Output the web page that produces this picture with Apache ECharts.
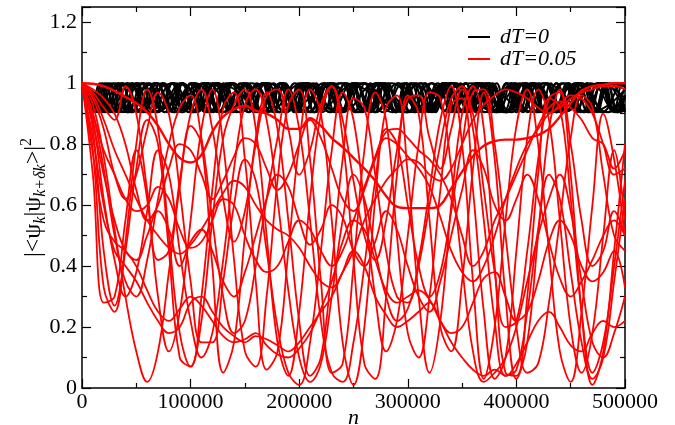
<!DOCTYPE html>
<html>
<head>
<meta charset="utf-8">
<script src="https://cdn.jsdelivr.net/npm/echarts/dist/echarts.min.js"></script>
<style>html,body{margin:0;padding:0;background:#fff}#c{width:675px;height:425px}</style>
</head>
<body>
<div id="c"></div>
<script>
// x grid shared by the dT=0.05 curves
const nGrid = [0,10000,20000,30000,40000,50000,60000,70000,80000,90000,100000,110000,120000,130000,140000,150000,160000,170000,180000,190000,200000,210000,220000,230000,240000,250000,260000,270000,280000,290000,300000,310000,320000,330000,340000,350000,360000,370000,380000,390000,400000,410000,420000,430000,440000,450000,460000,470000,480000,490000,500000];

// dT=0 curves: [n, value] turning points
const black1 = [[0,1],[10400,0.91],[20800,1],[31200,0.91],[41600,1],[52000,0.91],[62400,1],[72800,0.91],[83200,1],[93600,0.91],[104000,1],[114400,0.91],[124800,1],[135200,0.91],[145600,1],[156000,0.91],[166400,1],[176800,0.91],[187200,1],[197600,0.91],[208000,1],[218400,0.91],[228800,1],[239200,0.91],[249600,1],[260000,0.91],[270400,1],[280800,0.91],[291200,1],[301600,0.91],[312000,1],[322400,0.91],[332800,1],[343200,0.91],[353600,1],[364000,0.91],[374400,1],[384800,0.91],[395200,1],[405600,0.91],[416000,1],[426400,0.91],[436800,1],[447200,0.91],[457600,1],[468000,0.91],[478400,1],[488800,0.91],[500000,0.99]];
const black2 = [[0,1],[12600,0.905],[25200,1],[37800,0.905],[50400,1],[63000,0.905],[75600,1],[88200,0.905],[100800,1],[113400,0.905],[126000,1],[138600,0.905],[151200,1],[163800,0.905],[176400,1],[189000,0.905],[201600,1],[214200,0.905],[226800,1],[239400,0.905],[252000,1],[264600,0.905],[277200,1],[289800,0.905],[302400,1],[315000,0.905],[327600,1],[340200,0.905],[352800,1],[365400,0.905],[378000,1],[390600,0.905],[403200,1],[415800,0.905],[428400,1],[441000,0.905],[453600,1],[466200,0.905],[478800,1],[491400,0.905],[500000,0.96]];
const black3 = [[0,1],[15200,0.905],[30400,1],[45600,0.905],[60800,1],[76000,0.905],[91200,1],[106400,0.905],[121600,1],[136800,0.905],[152000,1],[167200,0.905],[182400,1],[197600,0.905],[212800,1],[228000,0.905],[243200,1],[258400,0.905],[273600,1],[288800,0.905],[304000,1],[319200,0.905],[334400,1],[349600,0.905],[364800,1],[380000,0.905],[395200,1],[410400,0.905],[425600,1],[440800,0.905],[456000,1],[471200,0.905],[486400,1],[500000,0.91]];
const black4 = [[0,1],[18500,0.905],[37000,1],[55500,0.905],[74000,1],[92500,0.905],[111000,1],[129500,0.905],[148000,1],[166500,0.905],[185000,1],[203500,0.905],[222000,1],[240500,0.905],[259000,1],[277500,0.905],[296000,1],[314500,0.905],[333000,1],[351500,0.905],[370000,1],[388500,0.905],[407000,1],[425500,0.905],[444000,1],[462500,0.905],[481000,1],[500000,0.905]];
const black5 = [[0,1],[23000,0.905],[46000,1],[69000,0.905],[92000,1],[115000,0.905],[138000,1],[161000,0.905],[184000,1],[207000,0.905],[230000,1],[253000,0.905],[276000,1],[299000,0.905],[322000,1],[345000,0.905],[368000,1],[391000,0.905],[414000,1],[437000,0.905],[460000,1],[483000,0.905],[500000,0.96]];
const black6 = [[0,1],[28500,0.905],[57000,1],[85500,0.905],[114000,1],[142500,0.905],[171000,1],[199500,0.905],[228000,1],[256500,0.905],[285000,1],[313500,0.905],[342000,1],[370500,0.905],[399000,1],[427500,0.905],[456000,1],[484500,0.905],[500000,0.95]];
const black7 = [[0,1],[42500,0.905],[85000,1],[127500,0.905],[170000,1],[212500,0.905],[255000,1],[297500,0.905],[340000,1],[382500,0.905],[425000,1],[467500,0.905],[500000,0.98]];
const black8 = [[0,1],[8300,0.915],[16600,1],[24900,0.915],[33200,1],[41500,0.915],[49800,1],[58100,0.915],[66400,1],[74700,0.915],[83000,1],[91300,0.915],[99600,1],[107900,0.915],[116200,1],[124500,0.915],[132800,1],[141100,0.915],[149400,1],[157700,0.915],[166000,1],[174300,0.915],[182600,1],[190900,0.915],[199200,1],[207500,0.915],[215800,1],[224100,0.915],[232400,1],[240700,0.915],[249000,1],[257300,0.915],[265600,1],[273900,0.915],[282200,1],[290500,0.915],[298800,1],[307100,0.915],[315400,1],[323700,0.915],[332000,1],[340300,0.915],[348600,1],[356900,0.915],[365200,1],[373500,0.915],[381800,1],[390100,0.915],[398400,1],[406700,0.915],[415000,1],[423300,0.915],[431600,1],[439900,0.915],[448200,1],[456500,0.915],[464800,1],[473100,0.915],[481400,1],[489700,0.915],[498000,1],[500000,0.99]];
const black9 = [[0,1],[9300,0.905],[18600,1],[27900,0.905],[37200,1],[46500,0.905],[55800,1],[65100,0.905],[74400,1],[83700,0.905],[93000,1],[102300,0.905],[111600,1],[120900,0.905],[130200,1],[139500,0.905],[148800,1],[158100,0.905],[167400,1],[176700,0.905],[186000,1],[195300,0.905],[204600,1],[213900,0.905],[223200,1],[232500,0.905],[241800,1],[251100,0.905],[260400,1],[269700,0.905],[279000,1],[288300,0.905],[297600,1],[306900,0.905],[316200,1],[325500,0.905],[334800,1],[344100,0.905],[353400,1],[362700,0.905],[372000,1],[381300,0.905],[390600,1],[399900,0.905],[409200,1],[418500,0.905],[427800,1],[437100,0.905],[446400,1],[455700,0.905],[465000,1],[474300,0.905],[483600,1],[492900,0.905],[500000,0.96]];
const black10 = [[0,1],[11500,0.91],[23000,1],[34500,0.91],[46000,1],[57500,0.91],[69000,1],[80500,0.91],[92000,1],[103500,0.91],[115000,1],[126500,0.91],[138000,1],[149500,0.91],[161000,1],[172500,0.91],[184000,1],[195500,0.91],[207000,1],[218500,0.91],[230000,1],[241500,0.91],[253000,1],[264500,0.91],[276000,1],[287500,0.91],[299000,1],[310500,0.91],[322000,1],[333500,0.91],[345000,1],[356500,0.91],[368000,1],[379500,0.91],[391000,1],[402500,0.91],[414000,1],[425500,0.91],[437000,1],[448500,0.91],[460000,1],[471500,0.91],[483000,1],[494500,0.91],[500000,0.93]];
const black11 = [[0,1],[14000,0.905],[28000,1],[42000,0.905],[56000,1],[70000,0.905],[84000,1],[98000,0.905],[112000,1],[126000,0.905],[140000,1],[154000,0.905],[168000,1],[182000,0.905],[196000,1],[210000,0.905],[224000,1],[238000,0.905],[252000,1],[266000,0.905],[280000,1],[294000,0.905],[308000,1],[322000,0.905],[336000,1],[350000,0.905],[364000,1],[378000,0.905],[392000,1],[406000,0.905],[420000,1],[434000,0.905],[448000,1],[462000,0.905],[476000,1],[490000,0.905],[500000,0.95]];
const black12 = [[0,1],[17000,0.905],[34000,1],[51000,0.905],[68000,1],[85000,0.905],[102000,1],[119000,0.905],[136000,1],[153000,0.905],[170000,1],[187000,0.905],[204000,1],[221000,0.905],[238000,1],[255000,0.905],[272000,1],[289000,0.905],[306000,1],[323000,0.905],[340000,1],[357000,0.905],[374000,1],[391000,0.905],[408000,1],[425000,0.905],[442000,1],[459000,0.905],[476000,1],[493000,0.905],[500000,0.92]];
const black13 = [[0,1],[20800,0.905],[41600,1],[62400,0.905],[83200,1],[104000,0.905],[124800,1],[145600,0.905],[166400,1],[187200,0.905],[208000,1],[228800,0.905],[249600,1],[270400,0.905],[291200,1],[312000,0.905],[332800,1],[353600,0.905],[374400,1],[395200,0.905],[416000,1],[436800,0.905],[457600,1],[478400,0.905],[499200,1],[500000,1]];
const black14 = [[0,1],[34000,0.905],[68000,1],[102000,0.905],[136000,1],[170000,0.905],[204000,1],[238000,0.905],[272000,1],[306000,0.905],[340000,1],[374000,0.905],[408000,1],[442000,0.905],[476000,1],[500000,0.95]];
const black15 = [[0,1],[26000,0.905],[52000,1],[78000,0.905],[104000,1],[130000,0.905],[156000,1],[182000,0.905],[208000,1],[234000,0.905],[260000,1],[286000,0.905],[312000,1],[338000,0.905],[364000,1],[390000,0.905],[416000,1],[442000,0.905],[468000,1],[494000,0.905],[500000,0.91]];
const black16 = [[0,1],[60000,0.905],[120000,1],[180000,0.905],[240000,1],[300000,0.905],[360000,1],[420000,0.905],[480000,1],[500000,0.99]];

// dT=0.05 curves, values on nGrid
const redSlow = [1.0,0.998,0.99,0.975,0.955,0.935,0.905,0.86,0.80,0.755,0.74,0.765,0.84,0.89,0.915,0.925,0.91,0.90,0.88,0.85,0.85,0.885,0.86,0.82,0.79,0.755,0.72,0.68,0.63,0.595,0.59,0.59,0.59,0.60,0.655,0.71,0.76,0.795,0.81,0.815,0.815,0.82,0.83,0.85,0.89,0.935,0.975,0.99,0.995,1.0,1.0];
const red1 = [1.0,0.93,0.76,0.52,0.30,0.12,0.02,0.12,0.38,0.66,0.86,0.80,0.40,0.05,0.15,0.50,0.82,0.97,0.85,0.55,0.22,0.04,0.10,0.40,0.75,0.95,0.92,0.70,0.45,0.30,0.28,0.42,0.65,0.88,0.99,0.80,0.35,0.03,0.20,0.55,0.86,0.98,0.80,0.45,0.12,0.02,0.25,0.60,0.90,0.75,0.50];
const red2 = [1.0,0.85,0.45,0.27,0.45,0.72,0.88,0.80,0.45,0.10,0.07,0.30,0.65,0.92,0.97,0.75,0.35,0.06,0.12,0.45,0.80,0.98,0.90,0.55,0.15,0.01,0.20,0.62,0.92,0.96,0.70,0.30,0.05,0.22,0.60,0.90,0.99,0.85,0.40,0.05,0.04,0.30,0.70,0.95,0.92,0.62,0.25,0.05,0.15,0.40,0.68];
const red3 = [1.0,0.78,0.33,0.25,0.48,0.80,0.98,0.85,0.50,0.18,0.07,0.22,0.55,0.82,0.93,0.98,0.85,0.50,0.15,0.04,0.25,0.62,0.90,0.99,0.82,0.42,0.08,0.03,0.30,0.70,0.96,0.90,0.55,0.20,0.12,0.35,0.72,0.97,0.75,0.30,0.03,0.15,0.50,0.85,0.98,0.70,0.25,0.01,0.12,0.45,0.80];
const red4 = [1.0,0.70,0.28,0.30,0.55,0.78,0.62,0.30,0.12,0.25,0.55,0.85,0.98,0.80,0.42,0.12,0.07,0.30,0.68,0.93,0.98,0.75,0.35,0.05,0.08,0.40,0.78,0.97,0.88,0.50,0.18,0.10,0.30,0.65,0.93,0.95,0.65,0.25,0.03,0.10,0.45,0.82,0.98,0.88,0.55,0.20,0.05,0.18,0.50,0.78,0.55];
const red5 = [1.0,0.87,0.70,0.55,0.45,0.42,0.50,0.58,0.52,0.40,0.48,0.52,0.45,0.35,0.30,0.38,0.50,0.62,0.70,0.66,0.55,0.47,0.52,0.60,0.56,0.45,0.40,0.48,0.58,0.52,0.40,0.30,0.25,0.35,0.50,0.65,0.78,0.72,0.60,0.55,0.62,0.70,0.62,0.48,0.36,0.30,0.35,0.42,0.50,0.55,0.50];
const red6 = [1.0,0.82,0.60,0.45,0.40,0.35,0.28,0.22,0.18,0.20,0.28,0.30,0.25,0.20,0.17,0.15,0.17,0.16,0.14,0.12,0.15,0.20,0.25,0.30,0.38,0.45,0.40,0.30,0.24,0.20,0.22,0.25,0.28,0.22,0.15,0.10,0.06,0.04,0.06,0.04,0.08,0.15,0.22,0.25,0.20,0.14,0.12,0.18,0.22,0.20,0.22];
const red7 = [1.0,0.77,0.55,0.48,0.45,0.40,0.32,0.25,0.22,0.26,0.30,0.27,0.22,0.17,0.15,0.16,0.18,0.14,0.11,0.10,0.13,0.18,0.26,0.35,0.48,0.55,0.52,0.42,0.32,0.28,0.30,0.32,0.29,0.22,0.18,0.20,0.28,0.36,0.38,0.30,0.22,0.25,0.35,0.48,0.55,0.50,0.40,0.35,0.38,0.45,0.33];
const red8 = [1.0,0.98,0.95,0.90,0.80,0.65,0.55,0.60,0.72,0.80,0.78,0.70,0.62,0.68,0.76,0.82,0.80,0.72,0.65,0.70,0.80,0.88,0.82,0.72,0.62,0.58,0.66,0.76,0.84,0.85,0.82,0.78,0.75,0.70,0.62,0.50,0.40,0.45,0.55,0.62,0.70,0.78,0.86,0.92,0.94,0.92,0.88,0.82,0.80,0.72,0.78];
const red9 = [1.0,0.90,0.78,0.70,0.62,0.58,0.60,0.66,0.62,0.52,0.46,0.48,0.55,0.62,0.60,0.50,0.42,0.38,0.40,0.48,0.55,0.52,0.45,0.40,0.45,0.55,0.65,0.75,0.82,0.80,0.76,0.72,0.66,0.56,0.45,0.38,0.35,0.40,0.50,0.62,0.72,0.80,0.85,0.90,0.92,0.95,0.97,0.98,0.99,0.99,0.98];
const red10 = [1.0,0.96,0.88,0.78,0.70,0.62,0.55,0.50,0.46,0.44,0.47,0.52,0.58,0.64,0.68,0.66,0.60,0.55,0.52,0.50,0.46,0.40,0.35,0.33,0.38,0.45,0.55,0.62,0.68,0.72,0.75,0.74,0.70,0.68,0.72,0.80,0.88,0.93,0.96,0.98,0.97,0.95,0.92,0.90,0.93,0.96,0.95,0.90,0.80,0.70,0.72];
const red11 = [1.0,0.95,0.85,0.70,0.62,0.70,0.85,0.97,0.90,0.65,0.35,0.15,0.15,0.35,0.60,0.75,0.68,0.45,0.20,0.05,0.01,0.15,0.45,0.78,0.97,0.88,0.60,0.30,0.12,0.22,0.50,0.80,0.97,0.95,0.72,0.40,0.12,0.02,0.05,0.10,0.20,0.35,0.50,0.62,0.70,0.58,0.35,0.15,0.10,0.18,0.30];
const red12 = [1.0,0.90,0.72,0.50,0.35,0.30,0.42,0.62,0.80,0.92,0.96,0.82,0.55,0.30,0.18,0.22,0.40,0.62,0.82,0.98,0.85,0.55,0.22,0.05,0.02,0.15,0.40,0.68,0.85,0.80,0.60,0.40,0.30,0.38,0.58,0.80,0.97,0.98,0.80,0.50,0.20,0.05,0.08,0.28,0.55,0.82,0.96,0.92,0.70,0.50,0.45];
const red13 = [1.0,0.97,0.92,0.88,0.99,0.90,0.65,0.42,0.45,0.68,0.90,0.98,0.85,0.62,0.48,0.58,0.80,0.96,0.98,0.85,0.70,0.78,0.93,0.99,0.88,0.68,0.50,0.42,0.55,0.78,0.95,0.96,0.82,0.72,0.85,0.98,0.90,0.65,0.38,0.20,0.22,0.45,0.75,0.95,0.97,0.80,0.55,0.40,0.45,0.58,0.50];
const red14 = [1.0,0.88,0.62,0.42,0.30,0.38,0.58,0.78,0.70,0.45,0.22,0.10,0.18,0.42,0.72,0.93,0.98,0.88,0.62,0.32,0.10,0.02,0.08,0.30,0.55,0.70,0.62,0.45,0.30,0.22,0.26,0.40,0.60,0.80,0.95,0.99,0.85,0.55,0.22,0.04,0.06,0.25,0.52,0.70,0.62,0.38,0.15,0.03,0.10,0.35,0.62];

const xTicks = {min: 0, max: 500000, interval: 100000};
const yTicks = {min: 0, max: 1.25, interval: 0.2};

const blackSets = [black1, black2, black3, black4, black5, black6, black7, black8, black9, black10, black11, black12, black13, black14, black15, black16];
const redSets = [red1, red2, red3, red4, red5, red6, red7, red8, red9, red10, red11, red12, red13, red14];

const FONT = "'Liberation Serif', 'Times New Roman', serif";
const series = [];
blackSets.forEach(d => series.push({
  type: 'line', name: 'dT=0', data: d, smooth: 0.5, symbol: 'none',
  lineStyle: {color: '#000', width: 2}, itemStyle: {color: '#000'}, z: 2
}));
redSets.forEach(v => series.push({
  type: 'line', name: 'dT=0.05', data: nGrid.map((n, i) => [n, v[i]]), smooth: 0.4, symbol: 'none',
  lineStyle: {color: '#ff0000', width: 1.8}, itemStyle: {color: '#ff0000'}, z: 3
}));
series.push({
  type: 'line', name: 'dT=0.05', data: nGrid.map((n, i) => [n, redSlow[i]]), smooth: 0.4, symbol: 'none',
  lineStyle: {color: '#ff0000', width: 2.4}, itemStyle: {color: '#ff0000'}, z: 3
});

const axisLineStyle = {color: '#000', width: 1.5};
function xAx(pos, show) {
  return {
    type: 'value', position: pos, min: xTicks.min, max: xTicks.max, interval: xTicks.interval,
    axisLine: {show: true, onZero: false, lineStyle: axisLineStyle},
    axisTick: {show: true, inside: true, length: 9, lineStyle: {color: '#000', width: 1.2}},
    minorTick: {show: true, splitNumber: 2, length: 5, lineStyle: {color: '#000', width: 1.2}},
    splitLine: {show: false},
    axisLabel: {show: show, fontFamily: FONT, fontSize: 22, color: '#000', margin: 3, formatter: v => String(v)},
    name: show ? 'n' : '', nameLocation: 'middle', nameGap: 19, nameMoveOverlap: false,
    nameTextStyle: {fontFamily: FONT, fontSize: 22, fontStyle: 'italic', color: '#000'}
  };
}
function yAx(pos, show) {
  return {
    type: 'value', position: pos, min: yTicks.min, max: yTicks.max, interval: yTicks.interval,
    axisLine: {show: true, onZero: false, lineStyle: axisLineStyle},
    axisTick: {show: true, inside: true, length: 9, lineStyle: {color: '#000', width: 1.2}},
    minorTick: {show: true, splitNumber: 2, length: 5, lineStyle: {color: '#000', width: 1.2}},
    splitLine: {show: false},
    axisLabel: {show: show, fontFamily: FONT, fontSize: 22, color: '#000', margin: 5, showMaxLabel: false},
    name: show ? '{a||<ψ}{s|k}{a||ψ}{s|k+δk}{a|>|}{p|2}' : '',
    nameLocation: 'middle', nameGap: 33, nameMoveOverlap: false,
    nameTextStyle: {
      fontFamily: FONT, fontSize: 24, color: '#000',
      rich: {
        a: {fontFamily: FONT, fontSize: 24, color: '#000', lineHeight: 30},
        s: {fontFamily: FONT, fontSize: 16, fontStyle: 'italic', color: '#000', verticalAlign: 'bottom', lineHeight: 15},
        p: {fontFamily: FONT, fontSize: 16, color: '#000', verticalAlign: 'top', lineHeight: 15}
      }
    }
  };
}

const chart = echarts.init(document.getElementById('c'), null, {renderer: 'canvas'});
chart.setOption({
  animation: false,
  backgroundColor: '#fff',
  grid: {left: 82, right: 50, top: 7, bottom: 37, containLabel: false, outerBoundsMode: 'none'},
  xAxis: [xAx('bottom', true), xAx('top', false)],
  yAxis: [yAx('left', true), yAx('right', false)],
  legend: {
    data: ['dT=0', 'dT=0.05'], orient: 'vertical', left: 463, top: 21,
    icon: 'rect', itemWidth: 22, itemHeight: 2, itemGap: 0,
    textStyle: {fontFamily: FONT, fontSize: 22, fontStyle: 'italic', color: '#000', padding: [0, 0, 0, 5]}
  },
  series: series
});
</script>
</body>
</html>
